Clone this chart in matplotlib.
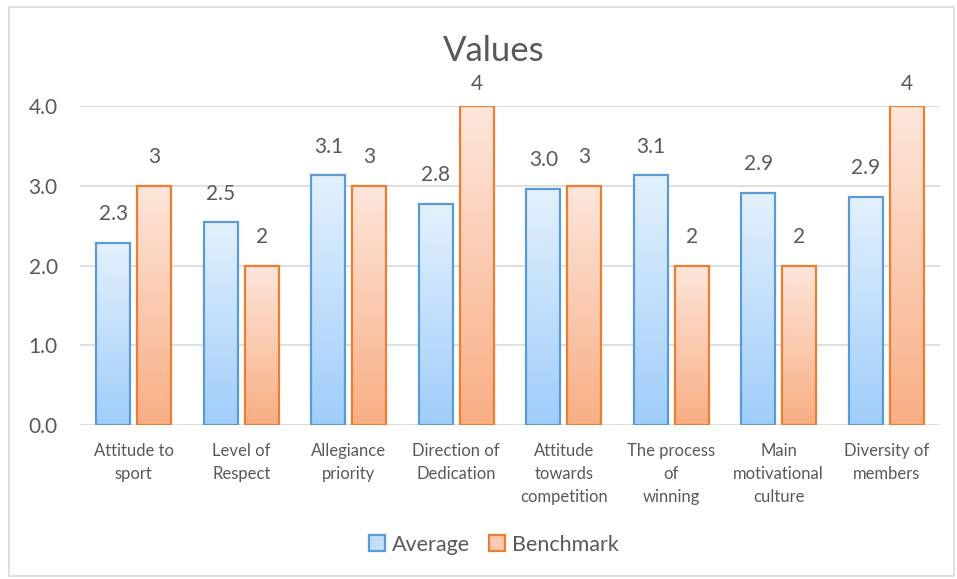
import numpy as np
import matplotlib
matplotlib.use("Agg")
import matplotlib.pyplot as plt
import matplotlib.patches as mpatches
from matplotlib.colors import LinearSegmentedColormap

# === data ===
categories = ["Attitude to\nsport", "Level of\nRespect", "Allegiance\npriority",
              "Direction of\nDedication", "Attitude\ntowards\ncompetition",
              "The process\nof\nwinning", "Main\nmotivational\nculture",
              "Diversity of\nmembers"]
average = [2.28, 2.54, 3.13, 2.77, 2.96, 3.13, 2.91, 2.86]
benchmark = [3, 2, 3, 4, 3, 2, 2, 4]

plt.rcParams['font.family'] = ['Lato', 'DejaVu Sans']
grey = "#595959"

fig = plt.figure(figsize=(9.57, 5.79), dpi=100)
ax = fig.add_axes([80 / 957, 154 / 579, 860 / 957, 319 / 579])

# outer chart border
fig.patches.append(mpatches.Rectangle((9 / 957, 3 / 579), 945 / 957, 569 / 579,
                                      transform=fig.transFigure, fill=False,
                                      edgecolor="#D9D9D9", linewidth=1.2))

x = np.arange(len(categories))
w = 0.316
off = 0.19

blue_cmap = LinearSegmentedColormap.from_list("b", ["#9FCDFA", "#E4F1FD"])
orng_cmap = LinearSegmentedColormap.from_list("o", ["#F9AE84", "#FDE6DB"])
grad = np.linspace(0, 1, 256).reshape(-1, 1)


def gradient_bars(xs, vals, cmap, edge):
    bars = ax.bar(xs, vals, width=w, facecolor="none", edgecolor=edge,
                  linewidth=1.6, zorder=3)
    for b in bars:
        bx, by = b.get_x(), b.get_y()
        bw, bh = b.get_width(), b.get_height()
        im = ax.imshow(grad, cmap=cmap, origin="lower", aspect="auto",
                       extent=(bx, bx + bw, by, by + bh), zorder=2)
        im.set_clip_path(b)
    return bars


gradient_bars(x - off, average, blue_cmap, "#5B9BD5")
gradient_bars(x + off, benchmark, orng_cmap, "#ED7D31")

# labels above bars, squeezed down near the top of the chart (as Excel does)
for xi, v in zip(x - off, average):
    ax.text(xi, min(v + 0.36, 4.27), f"{v:.1f}", ha="center", va="center",
            fontsize=15, color=grey, clip_on=False)
for xi, v in zip(x + off, benchmark):
    ax.text(xi, min(v + 0.36, 4.27), f"{v:d}", ha="center", va="center",
            fontsize=15, color=grey, clip_on=False)

ax.set_xlim(-0.5, len(categories) - 0.5)
ax.set_ylim(0, 4)
ax.set_yticks([0, 1, 2, 3, 4])
ax.set_yticklabels([f"{t:.1f}" for t in [0, 1, 2, 3, 4]])
ax.set_xticks(x)
ax.set_xticklabels(categories, fontsize=12, color=grey, linespacing=1.55)
ax.tick_params(axis="y", labelsize=15, labelcolor=grey, length=0, pad=16)
ax.tick_params(axis="x", length=0, pad=13)
ax.grid(axis="y", color="#D9D9D9", linewidth=1.2, zorder=0)
ax.set_axisbelow(True)
for s in ax.spines.values():
    s.set_visible(False)

fig.text(494 / 957, 1 - 51 / 579, "Values", ha="center", va="center",
         fontsize=25, color=grey)

handles = [mpatches.Patch(facecolor="#C2DFFB", edgecolor="#5B9BD5", linewidth=1.6, label="Average"),
           mpatches.Patch(facecolor="#FBCAB0", edgecolor="#ED7D31", linewidth=1.6, label="Benchmark")]
ax.legend(handles=handles, loc="center", bbox_to_anchor=(0.481, -0.375), ncol=2,
          frameon=False, fontsize=15.5, labelcolor=grey, handlelength=0.75,
          handleheight=0.75, handletextpad=0.3, columnspacing=0.9)

fig.savefig("out.png", dpi=100)
